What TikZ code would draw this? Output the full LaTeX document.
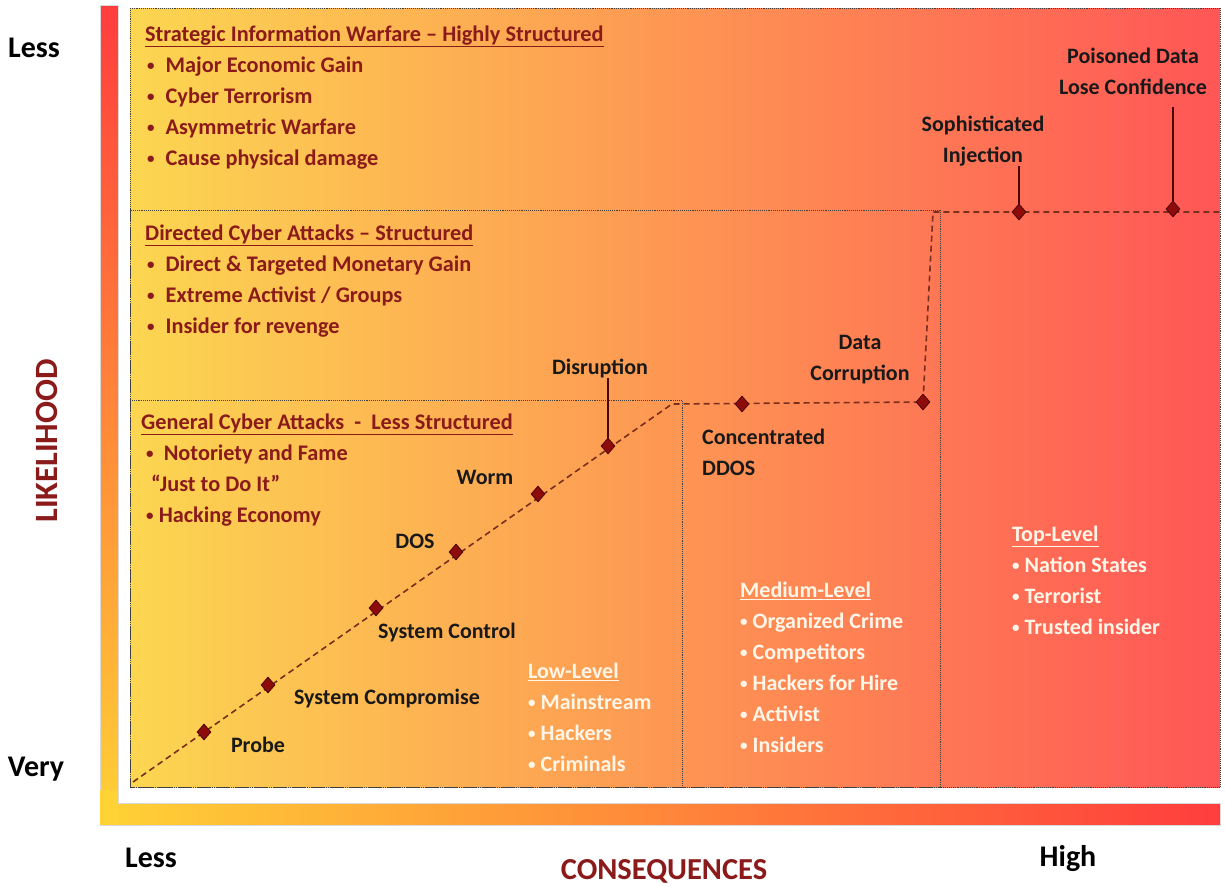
\documentclass[tikz,border=0pt]{standalone}
\usepackage{fontspec}
\setmainfont{Carlito}
\usetikzlibrary{shapes.geometric}

\definecolor{riskred}{HTML}{8B1A1A}
\definecolor{hitfill}{HTML}{8E0B0B}
\definecolor{hitline}{HTML}{4A0505}
\definecolor{pathbrown}{HTML}{7A2E1C}
\definecolor{lowyellow}{HTML}{FCD651}
\definecolor{midorange}{HTML}{FBAF4B}
\definecolor{highred}{HTML}{FF5656}
\definecolor{paletext}{HTML}{FFF6E8}
\definecolor{barred}{HTML}{FF3D3D}
\definecolor{barorange}{HTML}{FFA038}
\definecolor{baryellow}{HTML}{FFD236}

% small list bullet
\newcommand\dotitem{\raisebox{0.12ex}{\fontsize{15}{15}\selectfont•}}
\newcommand\motiveitem{\hspace{2pt}\dotitem\hspace{11pt}}

\tikzset{
  hit/.style={diamond, draw=hitline, fill=hitfill, line width=0.8pt,
    inner sep=0pt, minimum width=14pt, minimum height=16pt},
  attack/.style={font=\fontsize{22}{31}\selectfont\bfseries, text=black!90, inner sep=0pt},
  motive/.style={font=\fontsize{22.3}{31}\selectfont\bfseries, text=riskred,
    align=left, anchor=north west, inner sep=0pt},
  actor/.style={font=\fontsize{22}{31}\selectfont\bfseries, text=paletext,
    align=left, anchor=north west, inner sep=0pt},
  axisword/.style={font=\fontsize{30}{36}\selectfont\bfseries, inner sep=0pt, anchor=base},
  zone/.style={densely dotted, draw=black!75, line width=0.9pt},
  trend/.style={draw=pathbrown, line width=1.6pt, dash pattern=on 6pt off 4pt},
  leader/.style={draw=hitline, line width=1.3pt}
}

\begin{document}
\begin{tikzpicture}[x=1pt, y=-1pt]
  \useasboundingbox (0,0) rectangle (1225,886);

  % colour bars along the axes
  \shade[top color=barred, middle color=barorange, bottom color=baryellow, draw=black!15]
    (100,5) rectangle (118,825);
  \shade[left color=baryellow, middle color=barorange, right color=barred, draw=black!15]
    (100,803) rectangle (1220,825);
  \fill[baryellow] (100.4,790) rectangle (117.6,824.6);

  % risk area
  \shade[left color=lowyellow, middle color=midorange, right color=highred]
    (130,8) rectangle (1220,787);
  \draw[zone] (130,8) rectangle (1220,787);
  \draw[zone] (130,210) rectangle (940,787);
  \draw[zone] (130,400) rectangle (682,787);

  % attack path
  \coordinate (start) at (133,782);
  \coordinate (bend) at (672,404);
  \coordinate (turn) at (923,402);
  \coordinate (rise) at (933,212);
  \coordinate (edge) at (1220,212);
  \draw[trend] (start) -- (bend) -- (turn) -- (rise) -- (edge);

  \node[hit] (probe) at (204,732) {};
  \node[hit] (compromise) at (268,685) {};
  \node[hit] (control) at (376,608) {};
  \node[hit] (dos) at (456,552) {};
  \node[hit] (worm) at (538,494) {};
  \node[hit] (disruption) at (608,446) {};
  \node[hit] (ddos) at (742,404) {};
  \node[hit] (corruption) at (turn) {};
  \node[hit] (injection) at (1019,212) {};
  \node[hit] (poisoned) at (1173,209) {};

  % attack labels
  \node[attack, anchor=base] (probelbl) at (258,752) {Probe};
  \node[attack, anchor=base] (compromiselbl) at (387,704) {System Compromise};
  \node[attack, anchor=base] (controllbl) at (447,638) {System Control};
  \node[attack, anchor=base] (doslbl) at (415,548) {DOS};
  \node[attack, anchor=base] (wormlbl) at (485,484) {Worm};
  \node[attack, anchor=base] (disruptionlbl) at (600,374) {Disruption};
  \node[attack, align=left, anchor=north west] (ddoslbl) at (702,422.3)
    {\strut Concentrated\\DDOS};
  \node[attack, align=center, anchor=north] (corruptionlbl) at (860,327.3)
    {\strut Data\\Corruption};
  \node[attack, align=center, anchor=north] (injectionlbl) at (983,109.3)
    {\strut Sophisticated\\Injection};
  \node[attack, align=center, anchor=north] (poisonedlbl) at (1133,41.3)
    {\strut Poisoned Data\\Lose Confidence};

  \draw[leader] (disruption.north) -- (disruption.north |- disruptionlbl.south);
  \draw[leader] (injection.north) -- ++(0,-38);
  \draw[leader] (poisoned.north) -- ++(0,-94);

  % motives
  \node[motive] (strategic) at (145,19.3) {\strut\underline{Strategic Information Warfare -- Highly Structured}\\
    \motiveitem Major Economic Gain\\
    \motiveitem Cyber Terrorism\\
    \motiveitem Asymmetric Warfare\\
    \motiveitem Cause physical damage};
  \node[motive] (directed) at (145,218.3) {\strut\underline{Directed Cyber Attacks -- Structured}\\
    \motiveitem Direct \& Targeted Monetary Gain\\
    \motiveitem Extreme Activist / Groups\\
    \motiveitem Insider for revenge};
  \node[motive] (general) at (141,407.3) {\strut\underline{General Cyber Attacks \ - \ Less Structured}\\
    \ \dotitem\ \ Notoriety and Fame\\
    \hspace{10pt}“Just to Do It”\\
    \ \dotitem\ Hacking Economy};

  % actors
  \node[actor] (lowlevel) at (528,656.3) {\strut\underline{Low-Level}\\
    \dotitem\ Mainstream\\ \dotitem\ Hackers\\ \dotitem\ Criminals};
  \node[actor] (midlevel) at (740,575.3) {\strut\underline{Medium-Level}\\
    \dotitem\ Organized Crime\\ \dotitem\ Competitors\\ \dotitem\ Hackers for Hire\\
    \dotitem\ Activist\\ \dotitem\ Insiders};
  \node[actor] (toplevel) at (1012,519.3) {\strut\underline{Top-Level}\\
    \dotitem\ Nation States\\ \dotitem\ Terrorist\\ \dotitem\ Trusted insider};

  % axis words
  \node[axisword] (likeless) at (34,57) {Less};
  \node[axisword] (likevery) at (36,776) {Very};
  \node[axisword] (conless) at (151,867) {Less};
  \node[axisword] (conhigh) at (1068,866) {High};
  \node[axisword, text=riskred, font=\fontsize{30.5}{36}\selectfont\bfseries] (conseq) at (664,879) {CONSEQUENCES};
  \node[text=riskred, font=\fontsize{32.5}{38}\selectfont\bfseries, rotate=90, inner sep=0pt]
    (likelihood) at (47,441) {LIKELIHOOD};
\end{tikzpicture}
\end{document}
